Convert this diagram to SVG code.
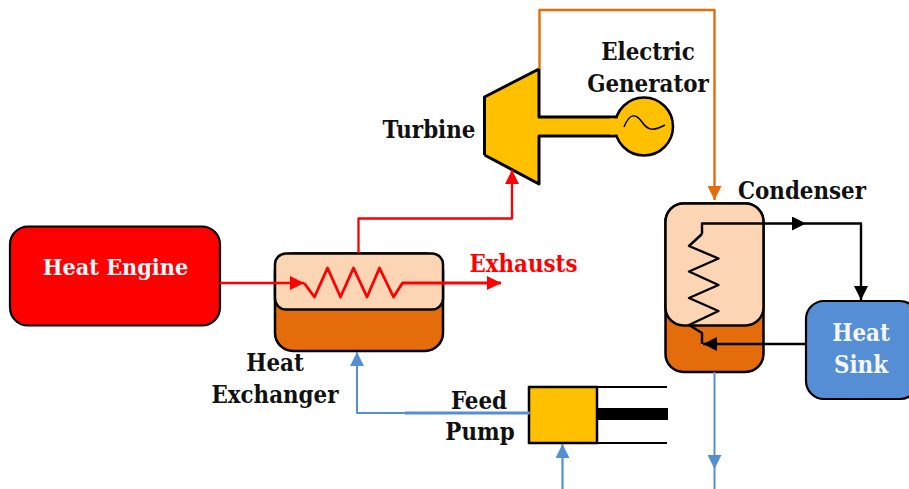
<svg xmlns="http://www.w3.org/2000/svg" width="909" height="489" viewBox="0 0 909 489">
<style>
text{font-family:"DejaVu Serif Condensed","DejaVu Serif","Liberation Serif",serif;font-weight:700;font-size:23.800px;fill:#111;text-anchor:middle}
.w{fill:#f4f7fb}.r{fill:#f00}
.k{stroke:#000;stroke-width:3;fill:none;stroke-linejoin:round}
.c{fill:none;stroke-linejoin:round}
</style>
<defs>
<marker id="ar" markerUnits="userSpaceOnUse" markerWidth="14" markerHeight="14" refX="14" refY="7" orient="auto"><path d="M0 0L14 7L0 14Z" fill="#f00"/></marker>
<marker id="ao" markerUnits="userSpaceOnUse" markerWidth="14" markerHeight="14" refX="14" refY="7" orient="auto"><path d="M0 0L14 7L0 14Z" fill="#e46c0a"/></marker>
<marker id="ab" markerUnits="userSpaceOnUse" markerWidth="14" markerHeight="14" refX="14" refY="7" orient="auto"><path d="M0 0L14 7L0 14Z" fill="#558ed5"/></marker>
<marker id="ak" markerUnits="userSpaceOnUse" markerWidth="14" markerHeight="14" refX="14" refY="7" orient="auto"><path d="M0 0L14 7L0 14Z" fill="#000"/></marker>
</defs>
<g id="heat-engine"><rect x="10" y="226.500" width="210" height="99" rx="18" fill="#f00" stroke="#000" stroke-width="2.200"/><text class="w" x="115.500" y="275" style="font-size:23.200px">Heat Engine</text></g>
<g id="heat-exchanger">
<rect x="275" y="253.500" width="168" height="97.500" rx="18" fill="#e46c0a" stroke="#000" stroke-width="2.500"/>
<rect x="275" y="253.500" width="168" height="56" rx="11" fill="#fcd5b5" stroke="#000" stroke-width="2.500"/>
<text x="275" y="371">Heat</text><text x="275" y="403">Exchanger</text></g>
<g id="turbine"><path d="M484.500 97L539 69V117H617V136H539V184L484.500 155Z" fill="#ffc000"/><path class="k" d="M484.500 155V97L539 69V117H617M617 136H539V184L484.500 155"/><text x="429" y="138">Turbine</text></g>
<g id="generator"><circle cx="644" cy="126.500" r="29" fill="#ffc000" stroke="#000" stroke-width="2.500"/><rect x="610" y="118.500" width="12" height="16" fill="#ffc000"/><path d="M624 127C630 112 636 114 642 122C648 131 654 131 665 125" fill="none" stroke="#000" stroke-width="1.500"/><text x="648" y="60">Electric</text><text x="648" y="92">Generator</text></g>
<g id="condenser">
<rect x="665.500" y="203.500" width="98" height="168.500" rx="18" fill="#e46c0a" stroke="#000" stroke-width="2.500"/>
<rect x="665.500" y="203.500" width="98" height="122" rx="18" fill="#fcd5b5" stroke="#000" stroke-width="2.500"/>
<text x="802" y="199">Condenser</text></g>
<g id="heat-sink"><rect x="806" y="301" width="112" height="98" rx="18" fill="#558ed5" stroke="#000" stroke-width="2.200"/><text class="w" x="861" y="341">Heat</text><text class="w" x="861" y="373">Sink</text></g>
<g id="feed-pump"><rect x="529" y="387" width="68" height="56" fill="#ffc000" stroke="#000" stroke-width="2.500"/><path d="M597 387H667M597 443H667" stroke="#000" stroke-width="2" fill="none"/><rect x="597" y="408" width="71" height="12" fill="#000"/><text x="479" y="409">Feed</text><text x="480" y="440">Pump</text></g>
<g id="connectors">
<path class="c" d="M220 283H304" stroke="#f00" stroke-width="2.500" marker-end="url(#ar)"/>
<path class="c" d="M304 283L314.500 297L327.500 268L340.500 297L353.500 268L367 297L379.500 268L393.500 297L402.500 283H501" stroke="#f00" stroke-width="2.800" marker-end="url(#ar)"/>
<path class="c" d="M358.500 253V218.500H512V170" stroke="#f00" stroke-width="2.300" marker-end="url(#ar)"/>
<path class="c" d="M539.500 69V10H714.500V200" stroke="#e46c0a" stroke-width="2.400" marker-end="url(#ao)"/>
<path class="c" d="M702 234V223.500H806" stroke="#000" stroke-width="2.400" marker-end="url(#ak)"/>
<path class="c" d="M806 223.500H861V300" stroke="#000" stroke-width="2.400" marker-end="url(#ak)"/>
<path class="c" d="M702 234L689 246L718.500 258.500L689 271.500L718.500 285L689 298L718.500 311L689 325L702 333V344" stroke="#000" stroke-width="2.400"/>
<path class="c" d="M806 344H703" stroke="#000" stroke-width="2.400" marker-end="url(#ak)"/>
<path class="c" d="M405 413H357V352" stroke="#558ed5" stroke-width="2" marker-end="url(#ab)"/>
<path class="c" d="M405 413H530" stroke="#558ed5" stroke-width="3"/>
<path class="c" d="M562.500 489V444" stroke="#558ed5" stroke-width="2.200" marker-end="url(#ab)"/>
<path class="c" d="M714.500 372V469" stroke="#558ed5" stroke-width="2" marker-end="url(#ab)"/>
<path class="c" d="M714.500 469V489" stroke="#558ed5" stroke-width="2"/>
</g>
<text class="r" x="523.500" y="272">Exhausts</text>
</svg>
